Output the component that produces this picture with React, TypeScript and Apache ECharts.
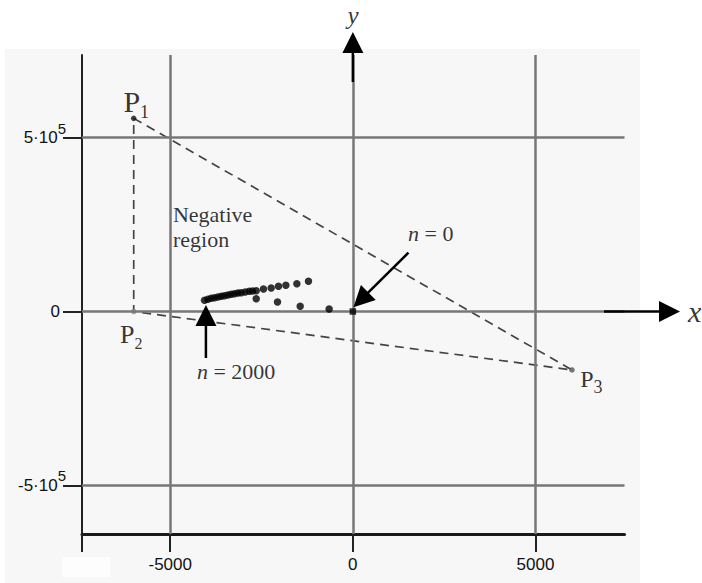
import React, { useEffect, useRef } from "react";
import * as echarts from "echarts";

// ---- axis ranges and ticks ----
const X_RANGE = [-7416, 7438];
const Y_RANGE = [-639400, 737100];
const xTicks = [-5000, 0, 5000];
const xTickLabels = ["-5000", "0", "5000"];
const yTicks = [500000, 0, -500000];
const yTickMantissas = ["5·10", "0", "-5·10"];
const yTickExponents = ["5", "", "5"];

// ---- triangle vertices P1, P2, P3 ----
const vertices = [
  [-6000, 555000],
  [-6000, 0],
  [6000, -168000],
];
const vertexIndices = ["1", "2", "3"];

// ---- sequence points (n = 0 ... 2000) ----
const originPoint = [0, 0];
const sequencePoints = [
  [-649, 7200],
  [-1442, 14900],
  [-2063, 27300],
  [-2646, 36800],
  [-1215, 86800],
  [-1533, 79900],
  [-1834, 75300],
  [-2036, 72400],
  [-2236, 67500],
  [-2447, 64700],
  [-2646, 59800],
  [-2748, 58900],
  [-2838, 58000],
  [-2947, 56000],
  [-3057, 54000],
  [-3147, 53200],
  [-3240, 51100],
  [-3331, 49400],
  [-3421, 47400],
  [-3514, 45400],
  [-3604, 43700],
  [-3695, 41700],
  [-3788, 39700],
  [-3878, 37900],
  [-3968, 35000],
  [-4061, 32200],
];

// ---- arrows [fromX, fromY, toX, toY] ----
const arrows = [
  [0, 659500, 0, 803200], // y axis
  [6877, 0, 8957, 0], // x axis
  [1522, 169000, 16, 12000], // n = 0
  [-4023, -133600, -4023, 18700], // n = 2000
];

// ---- text annotations ----
const annotationAnchors = [
  [8, 851700], // y
  [9176, 0], // x
  [-4926, 243700], // Negative region
  [1513, 224000], // n = 0
  [-4269, -173600], // n = 2000
];
const annotationTexts = ["y", "x", "Negative\nregion", "0", "2000"];

const SERIF = "'Liberation Serif', 'Times New Roman', Times, serif";
const SANS = "'Liberation Sans', Arial, Helvetica, sans-serif";

export default function App() {
  const ref = useRef<HTMLDivElement>(null);

  useEffect(() => {
    if (!ref.current) return;
    const chart = echarts.init(ref.current, undefined, { renderer: "svg" });

    const vertexLabelCfg = [
      { dx: -10.3, dy: -16.7, fp: 30, fs: 18, L: 38.7 },
      { dx: -13.7, dy: 23.4, fp: 26, fs: 16, L: 33 },
      { dx: 8.3, dy: 8.9, fp: 24, fs: 18, L: 34 },
    ];
    const vertexColors = ["#111", "#888", "#555"];

    const vertexData = vertices.map((v, i) => {
      const c = vertexLabelCfg[i];
      return {
        value: v,
        itemStyle: { color: vertexColors[i] },
        label: {
          show: true,
          position: "inside",
          align: "left",
          verticalAlign: "middle",
          offset: [c.dx, c.dy],
          formatter: "{p|P}{s|" + vertexIndices[i] + "}",
          rich: {
            p: { fontFamily: SERIF, fontSize: c.fp, lineHeight: c.L, color: "#000" },
            s: { fontFamily: SERIF, fontSize: c.fs, lineHeight: c.fs, verticalAlign: "bottom", color: "#000" },
          },
        },
      };
    });

    const annStyles: any[] = [
      { align: "center", formatter: "{i|" + annotationTexts[0] + "}", rich: { i: { fontFamily: SERIF, fontStyle: "italic", fontSize: 25, lineHeight: 22, color: "#000" } } },
      { align: "left", formatter: "{i|" + annotationTexts[1] + "}", rich: { i: { fontFamily: SERIF, fontStyle: "italic", fontSize: 30, lineHeight: 24, color: "#000" } } },
      { align: "left", formatter: annotationTexts[2], fontFamily: SERIF, fontSize: 22, lineHeight: 25, color: "#000" },
      { align: "left", formatter: "{i|n}{r| = " + annotationTexts[3] + "}", rich: { i: { fontFamily: SERIF, fontStyle: "italic", fontSize: 22, color: "#000" }, r: { fontFamily: SERIF, fontSize: 22, color: "#000" } } },
      { align: "left", formatter: "{i|n}{r| = " + annotationTexts[4] + "}", rich: { i: { fontFamily: SERIF, fontStyle: "italic", fontSize: 22, color: "#000" }, r: { fontFamily: SERIF, fontSize: 22, color: "#000" } } },
    ];
    const annData = annotationAnchors.map((a, i) => ({
      value: a,
      label: { show: true, position: "inside", verticalAlign: "middle", ...annStyles[i] },
    }));

    const option: any = {
      animation: false,
      backgroundColor: "transparent",
      graphic: [
        { type: "rect", z: -100, shape: { x: 5, y: 49, width: 635, height: 534 }, style: { fill: "#f7f7f7" }, silent: true },
        { type: "rect", z: -99, shape: { x: 62, y: 557, width: 48, height: 20 }, style: { fill: "#fdfdfd" }, silent: true },
      ],
      grid: { left: 82, right: 77.5, top: 55, bottom: 49, containLabel: false },
      xAxis: {
        type: "value",
        min: X_RANGE[0],
        max: X_RANGE[1],
        axisLine: { show: true, onZero: false, lineStyle: { color: "#1a1a1a", width: 3 } },
        axisTick: { show: true, inside: false, length: 18, customValues: [X_RANGE[0], ...xTicks], lineStyle: { color: "#222", width: 2 } },
        axisLabel: {
          show: true,
          customValues: xTicks,
          margin: 22,
          fontSize: 17,
          fontFamily: SANS,
          color: "#111",
          formatter: (v: number) => xTickLabels[xTicks.indexOf(v)] ?? "",
        },
        splitLine: { show: false },
      },
      yAxis: {
        type: "value",
        min: Y_RANGE[0],
        max: Y_RANGE[1],
        axisLine: { show: true, onZero: false, lineStyle: { color: "#222", width: 2 } },
        axisTick: { show: true, inside: false, length: 19, customValues: yTicks, lineStyle: { color: "#222", width: 2 } },
        axisLabel: {
          show: true,
          customValues: yTicks,
          margin: 16,
          formatter: (v: number) => {
            const i = yTicks.indexOf(v);
            if (i < 0) return "";
            if (!yTickExponents[i]) return "{z|" + yTickMantissas[i] + "}";
            return "{b|" + yTickMantissas[i] + "}{s|" + yTickExponents[i] + "}";
          },
          rich: {
            b: { fontFamily: SANS, fontSize: 17, lineHeight: 34, color: "#111" },
            s: { fontFamily: SANS, fontSize: 15, lineHeight: 15, verticalAlign: "top", color: "#111" },
            z: { fontFamily: SANS, fontSize: 17, color: "#111", padding: [0, 6, 0, 0] },
          },
        },
        splitLine: { show: false },
      },
      series: [
        {
          type: "line",
          name: "grid",
          data: [],
          z: 1,
          silent: true,
          markLine: {
            silent: true,
            symbol: "none",
            label: { show: false },
            lineStyle: { color: "#777", width: 2.5, type: "solid" },
            data: [...xTicks.map((v) => ({ xAxis: v })), ...yTicks.map((v) => ({ yAxis: v }))],
          },
        },
        {
          type: "line",
          name: "triangle",
          z: 3,
          silent: true,
          symbol: "none",
          data: [vertices[0], vertices[2], vertices[1], vertices[0]],
          lineStyle: { color: "#444", width: 1.7, type: [9, 6] },
        },
        {
          type: "scatter",
          name: "vertices",
          z: 4,
          symbolSize: 5.5,
          data: vertexData,
        },
        {
          type: "scatter",
          name: "sequence",
          z: 5,
          symbolSize: 7.5,
          itemStyle: { color: "#000" },
          data: sequencePoints,
        },
        {
          type: "scatter",
          name: "origin",
          z: 5,
          symbol: "rect",
          symbolSize: 6.5,
          itemStyle: { color: "#000" },
          data: [originPoint],
        },
        {
          type: "custom",
          name: "arrows",
          z: 6,
          silent: true,
          clip: false,
          encode: { x: [0, 2], y: [1, 3] },
          data: arrows,
          renderItem: (params: any, api: any) => {
            const p1 = api.coord([api.value(0), api.value(1)]);
            const p2 = api.coord([api.value(2), api.value(3)]);
            const dx = p2[0] - p1[0];
            const dy = p2[1] - p1[1];
            const len = Math.hypot(dx, dy) || 1;
            const ux = dx / len;
            const uy = dy / len;
            const headLen = 21;
            const halfW = 10.5;
            const bx = p2[0] - ux * headLen;
            const by = p2[1] - uy * headLen;
            return {
              type: "group",
              children: [
                { type: "line", shape: { x1: p1[0], y1: p1[1], x2: bx + ux, y2: by + uy }, style: { stroke: "#000", lineWidth: 2.5 } },
                {
                  type: "polygon",
                  shape: { points: [[p2[0], p2[1]], [bx - uy * halfW, by + ux * halfW], [bx + uy * halfW, by - ux * halfW]] },
                  style: { fill: "#000" },
                },
              ],
            };
          },
        },
        {
          type: "scatter",
          name: "annotations",
          z: 7,
          silent: true,
          clip: false,
          symbolSize: 0.1,
          itemStyle: { color: "transparent" },
          data: annData,
        },
      ],
    };

    chart.setOption(option);
    return () => chart.dispose();
  }, []);

  return (
    <div
      ref={ref}
      style={{ position: "fixed", left: 0, top: 0, width: 702, height: 583, background: "#ffffff" }}
    />
  );
}
